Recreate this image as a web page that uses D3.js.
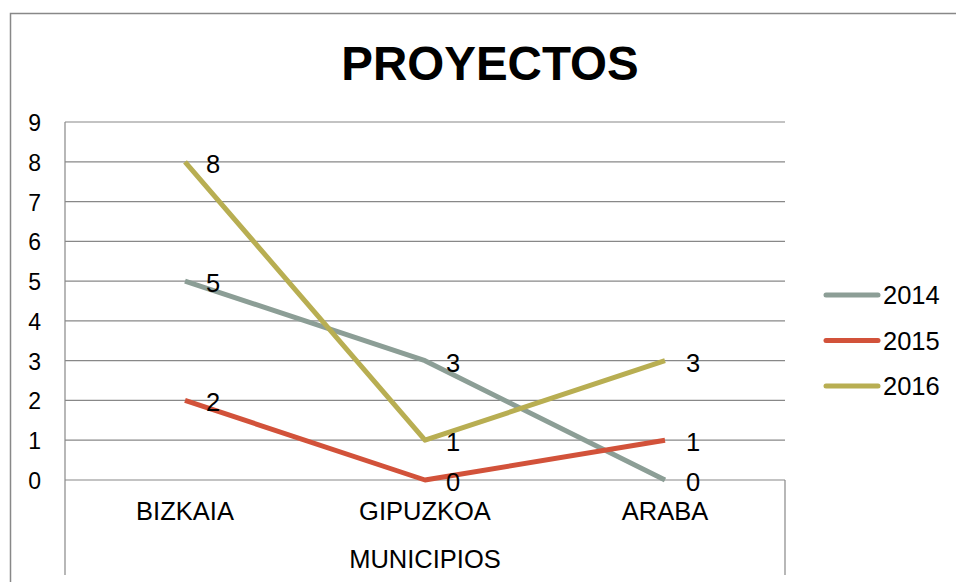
<!DOCTYPE html>
<html>
<head>
<meta charset="utf-8">
<script src="https://cdn.jsdelivr.net/npm/d3@7"></script>
<style>
  body { margin: 0; background: #fff; }
  text { font-family: "Liberation Sans", Arial, sans-serif; fill: #000; }
</style>
</head>
<body>
<div id="chart"></div>
<script>
// chart data
var categories = ["BIZKAIA", "GIPUZKOA", "ARABA"];
var seriesNames = ["2014", "2015", "2016"];
var values2014 = [5, 3, 0];
var values2015 = [2, 0, 1];
var values2016 = [8, 1, 3];
var yTicks = [0, 1, 2, 3, 4, 5, 6, 7, 8, 9];

var title = "PROYECTOS";
var xTitle = "MUNICIPIOS";

// settings
var width = 956;
var height = 582;
var colors = ["#8C9E96", "#D2523A", "#B8AE52"];
var grid_color = "#888888";
var line_width = 5;

var svg = d3.select("#chart").append("svg")
    .attr("width", width)
    .attr("height", height);

// outer border (cropped on the right and bottom)
svg.append("path")
    .attr("d", "M10.5,582 L10.5,13.5 L956,13.5")
    .attr("fill", "none")
    .attr("stroke", grid_color)
    .attr("stroke-width", 1.5);

var x = d3.scaleBand().domain(categories).range([65, 785]);
var y = d3.scaleLinear().domain([0, 9]).range([480, 122]);

// gridlines
svg.append("g").selectAll("line")
    .data(yTicks)
    .enter().append("line")
    .attr("x1", 65).attr("x2", 785)
    .attr("y1", function(d) { return y(d); })
    .attr("y2", function(d) { return y(d); })
    .attr("stroke", grid_color)
    .attr("stroke-width", 1.2);

// axis lines
svg.append("line")
    .attr("x1", 65).attr("x2", 65)
    .attr("y1", y(9)).attr("y2", 575)
    .attr("stroke", grid_color).attr("stroke-width", 1.2);
svg.append("line")
    .attr("x1", 785).attr("x2", 785)
    .attr("y1", y(0)).attr("y2", 575)
    .attr("stroke", grid_color).attr("stroke-width", 1.2);

// y tick labels
svg.append("g").selectAll("text")
    .data(yTicks)
    .enter().append("text")
    .attr("x", 41)
    .attr("y", function(d) { return y(d) + 9; })
    .attr("text-anchor", "end")
    .style("font-size", "23px")
    .text(function(d) { return d; });

// category labels
svg.append("g").selectAll("text")
    .data(categories)
    .enter().append("text")
    .attr("x", function(d) { return x(d) + x.bandwidth() / 2; })
    .attr("y", 520)
    .attr("text-anchor", "middle")
    .style("font-size", "25.5px")
    .text(function(d) { return d; });

svg.append("text")
    .attr("x", x(categories[1]) + x.bandwidth() / 2)
    .attr("y", 568)
    .attr("text-anchor", "middle")
    .style("font-size", "25.5px")
    .text(xTitle);

// title
svg.append("text")
    .attr("x", 490)
    .attr("y", 80)
    .attr("text-anchor", "middle")
    .style("font-size", "47.5px")
    .style("font-weight", "bold")
    .text(title);

// series
var series = [values2014, values2015, values2016].map(function(vals, i) {
    return { name: seriesNames[i], color: colors[i], values: vals };
});

var line = d3.line()
    .x(function(d, i) { return x(categories[i]) + x.bandwidth() / 2; })
    .y(function(d) { return y(d); });

svg.append("g").selectAll("path")
    .data(series)
    .enter().append("path")
    .attr("d", function(d) { return line(d.values); })
    .attr("fill", "none")
    .attr("stroke", function(d) { return d.color; })
    .attr("stroke-width", line_width)
    .attr("stroke-linejoin", "round");

// data labels
series.forEach(function(s) {
    svg.append("g").selectAll("text")
        .data(s.values)
        .enter().append("text")
        .attr("x", function(d, i) { return x(categories[i]) + x.bandwidth() / 2 + 21; })
        .attr("y", function(d) { return y(d) + 11; })
        .style("font-size", "25.5px")
        .text(function(d) { return d; });
});

// legend
var legendY = [295, 340.5, 386];
var legend = svg.append("g").selectAll("g")
    .data(series)
    .enter().append("g")
    .attr("transform", function(d, i) { return "translate(0," + legendY[i] + ")"; });

legend.append("line")
    .attr("x1", 826).attr("x2", 878)
    .attr("y1", 0).attr("y2", 0)
    .attr("stroke", function(d) { return d.color; })
    .attr("stroke-width", line_width)
    .attr("stroke-linecap", "round");

legend.append("text")
    .attr("x", 883)
    .attr("y", 9)
    .style("font-size", "25.5px")
    .text(function(d) { return d.name; });
</script>
</body>
</html>
